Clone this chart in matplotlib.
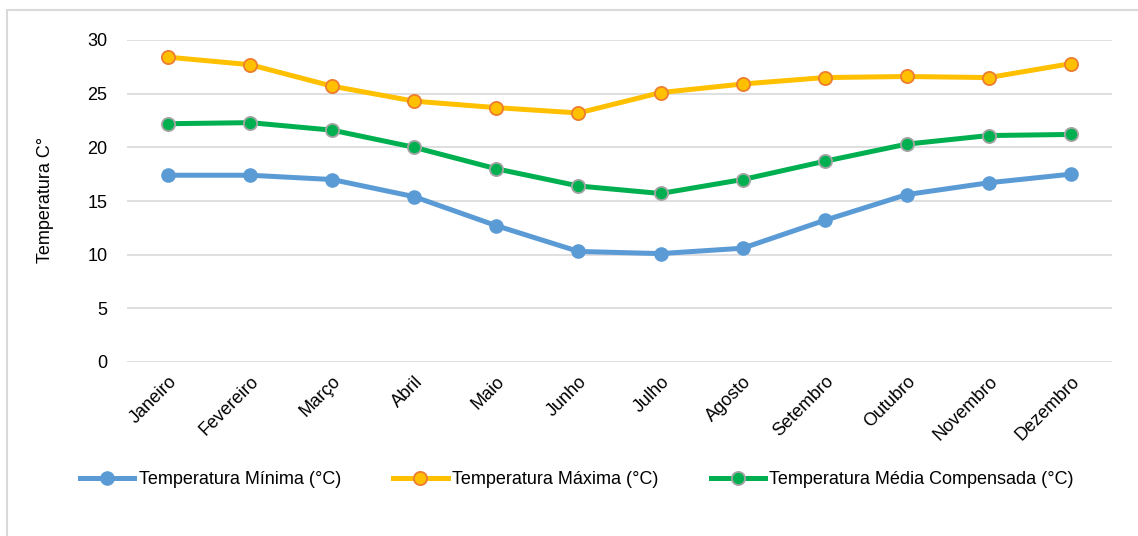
import matplotlib.pyplot as plt
from matplotlib.patches import Rectangle
import numpy as np

plt.rcParams['font.family'] = ['Liberation Sans', 'DejaVu Sans']

meses = ['Janeiro', 'Fevereiro', 'Março', 'Abril', 'Maio', 'Junho', 'Julho',
         'Agosto', 'Setembro', 'Outubro', 'Novembro', 'Dezembro']
temp_min = [17.4, 17.4, 17.0, 15.4, 12.7, 10.3, 10.1, 10.6, 13.2, 15.6, 16.7, 17.5]
temp_max = [28.4, 27.7, 25.7, 24.3, 23.7, 23.2, 25.1, 25.9, 26.5, 26.6, 26.5, 27.8]
temp_med = [22.2, 22.3, 21.6, 20.0, 18.0, 16.4, 15.7, 17.0, 18.7, 20.3, 21.1, 21.2]

fig = plt.figure(figsize=(11.38, 5.36), dpi=100)
fig.patches.append(Rectangle((7 / 1138, -0.01), 1.02, 1 - 10 / 536 + 0.01,
                             transform=fig.transFigure, fill=False,
                             edgecolor='#D9D9D9', linewidth=1.5))

ax = fig.add_axes([127 / 1138, 1 - 362 / 536, 985 / 1138, 322 / 536])
x = np.arange(len(meses))

ax.plot(x, temp_min, color='#5B9BD5', linewidth=3.6, marker='o', markersize=9.5,
        markerfacecolor='#5B9BD5', markeredgecolor='#5B9BD5',
        label='Temperatura Mínima (°C)', zorder=3)
ax.plot(x, temp_max, color='#FFC000', linewidth=3.6, marker='o', markersize=9.5,
        markerfacecolor='#FFC000', markeredgecolor='#ED7D31', markeredgewidth=1.3,
        label='Temperatura Máxima (°C)', zorder=3)
ax.plot(x, temp_med, color='#00B050', linewidth=3.6, marker='o', markersize=9.5,
        markerfacecolor='#00B050', markeredgecolor='#A5A5A5', markeredgewidth=1.3,
        label='Temperatura Média Compensada (°C)', zorder=3)

ax.set_xlim(-0.5, len(meses) - 0.5)
ax.set_ylim(0, 30)
ax.set_yticks(range(0, 31, 5))
ax.set_xticks(x)
ax.set_xticklabels(meses, rotation=45, ha='right', rotation_mode='anchor')
ax.tick_params(axis='both', length=0, labelsize=13, colors='#000000')
ax.tick_params(axis='y', pad=14)
ax.tick_params(axis='x', pad=8)
ax.grid(axis='y', color='#D9D9D9', linewidth=1.2)
ax.set_axisbelow(True)
for s in ax.spines.values():
    s.set_visible(False)

fig.text(46 / 1138, 1 - 200 / 536, 'Temperatura C°', rotation=90,
         ha='center', va='center', fontsize=13)

fig.legend(loc='center', bbox_to_anchor=(577 / 1138, 1 - 480 / 536), ncol=3,
           frameon=False, fontsize=13, handlelength=3.0, handletextpad=0.25,
           columnspacing=2.9)

fig.savefig('out.png', dpi=100)
